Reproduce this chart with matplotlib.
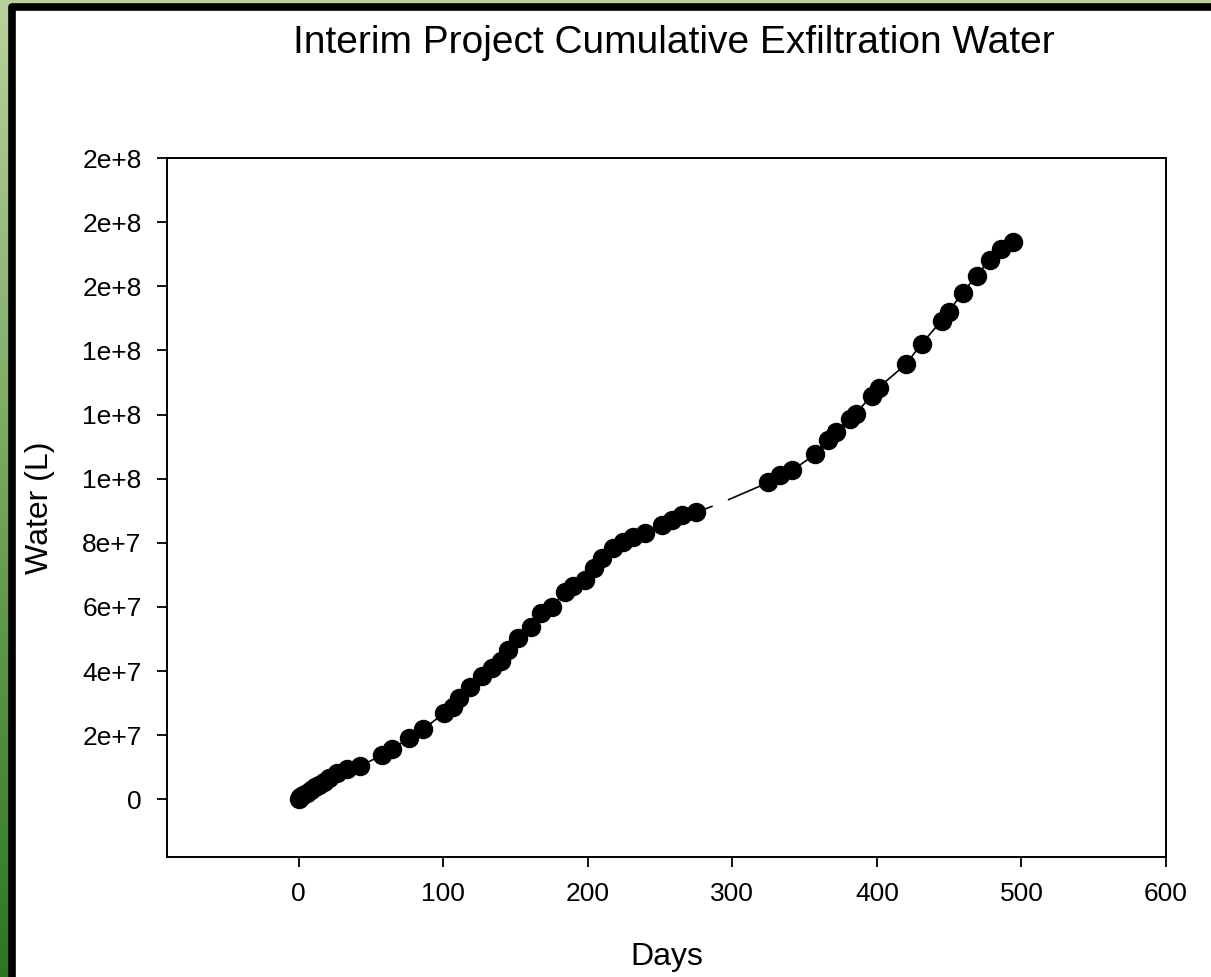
import numpy as np
import matplotlib
matplotlib.use("Agg")
import matplotlib.pyplot as plt
from matplotlib.patches import Rectangle
from matplotlib.ticker import FuncFormatter

plt.rcParams['font.family'] = ['Liberation Sans', 'DejaVu Sans']

# cumulative exfiltration readings (days, litres)
days = [0, 1.2, 3.3, 6, 8.8, 11.6, 14.3, 17.8, 21.2, 26.8, 33.7, 42.7, 57.9, 64.8,
        76.6, 86.3, 100.8, 107, 111.2, 118.8, 127.1, 134, 140, 145.1, 152, 161,
        168, 175, 184, 190, 198.4, 204.6, 210, 217.6, 224.6, 231.5, 239.8, 251.6,
        258.6, 265.5, 275.2, 291.5, 325, 333.2, 341.5, 357.4, 365.9, 371.4, 381.1,
        385.3, 396.4, 401.2, 419.9, 431, 444.8, 449.7, 459.3, 469, 478, 485.6, 494]
water = [0, 0.7e6, 1.3e6, 2.1e6, 2.9e6, 3.7e6, 4.5e6, 5.5e6, 6.5e6, 8.2e6, 9.4e6,
         10.4e6, 13.8e6, 15.7e6, 19.1e6, 21.9e6, 26.9e6, 28.8e6, 31.6e6, 35.1e6,
         38.5e6, 40.9e6, 43.1e6, 46.5e6, 50.2e6, 53.6e6, 58.2e6, 59.9e6, 64.6e6,
         66.5e6, 68.3e6, 72.1e6, 75.2e6, 78.3e6, 80.2e6, 81.7e6, 83.0e6, 85.5e6,
         87.0e6, 88.6e6, 89.5e6, 92.3e6, 98.8e6, 101.0e6, 102.6e6, 107.6e6,
         111.9e6, 114.4e6, 118.5e6, 120.3e6, 125.9e6, 128.4e6, 135.6e6, 142.1e6,
         149.3e6, 152.1e6, 158.0e6, 163.3e6, 168.3e6, 171.7e6, 173.9e6]
blank_idx = 41  # point shown without a symbol (white blot on the line)

days = np.array(days)
water = np.array(water)

W, H = 1211, 977
fig = plt.figure(figsize=(W / 100, H / 100), dpi=100)

# slide background: green gradient with a black framed white panel
bg = fig.add_axes([0, 0, 1, 1], zorder=-10)
grad = np.linspace(0, 1, 256).reshape(-1, 1)
top = np.array([186, 210, 153]) / 255
bot = np.array([44, 118, 33]) / 255
img = top + (bot - top) * grad[..., None]
bg.imshow(img, extent=[0, W, H, 0], aspect='auto')
bg.add_patch(Rectangle((11.5, 7), W + 100, H + 100, facecolor='white',
                       edgecolor='black', linewidth=5.5, joinstyle='round'))
bg.set_xlim(0, W)
bg.set_ylim(H, 0)
bg.axis('off')

ax = fig.add_axes([167 / W, 1 - 857 / H, (1166 - 167) / W, (857 - 158) / H])
ax.set_facecolor('none')

ax.plot(days, water, color='black', lw=1.2, zorder=2)
mask = np.ones(len(days), dtype=bool)
mask[blank_idx] = False
ax.plot(days[mask], water[mask], 'o', color='black', ms=13, zorder=3)
ax.plot(days[blank_idx], water[blank_idx], 'o', color='white', ms=11, zorder=3)

ax.set_xlim(-91, 600)
ax.set_ylim(-1.8e7, 2e8)
ax.set_xticks(np.arange(0, 601, 100))
ax.set_yticks(np.arange(0, 2.01e8, 2e7))


def sci(v, pos):
    if v == 0:
        return '0'
    m, e = ('%.0e' % v).split('e')
    return f"{m}e{e[0]}{int(e[1:])}"


ax.yaxis.set_major_formatter(FuncFormatter(sci))
ax.tick_params(direction='out', length=7.2, width=1.3, labelsize=19, pad=11,
               top=False, right=False, colors='black')
for s in ax.spines.values():
    s.set_linewidth(1.4)

ax.set_xlabel('Days', fontsize=23)
ax.set_ylabel('Water (L)', fontsize=23)
ax.xaxis.label.set_va('center')
ax.yaxis.label.set_va('center')
ax.xaxis.set_label_coords(0.5, -0.143)
ax.yaxis.set_label_coords(-0.127, 0.5)

fig.text(674 / W, 1 - 43 / H, 'Interim Project Cumulative Exfiltration Water',
         fontsize=28, ha='center', va='center')

fig.savefig('out.png', dpi=100)
